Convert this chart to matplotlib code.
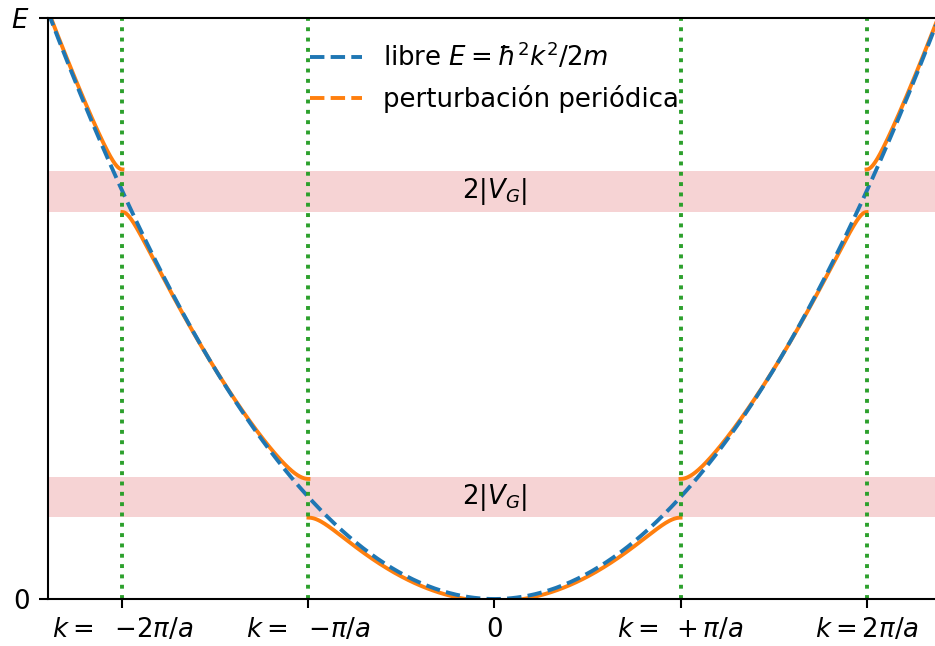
import numpy as np
import matplotlib
matplotlib.use("Agg")
import matplotlib.pyplot as plt
from matplotlib.lines import Line2D

# k en unidades de pi/a, E en unidades de (hbar pi/a)^2 / 2m
k_lim = (-2.4, 2.4)
E_lim = (0, 5.7)
bordes_zona = [-2, -1, 1, 2]
centros_gap = [1, 4]
V_G = 0.2                       # |V_G| para G = 2pi/a y G = 4pi/a
pos_x = [-2, -1, 0, 1, 2]
etiquetas_x = [r'$k=\ \;{-}2\pi/a$', r'$k=\ \;{-}\pi/a$', r'$0$',
               r'$k=\ \,{+}\,\pi/a$', r'$k=2\pi/a$']
# tramos de la zona extendida: (k inicial, k final, indice de banda)
tramos = [(-2.4, -2, 2), (-2, -1, 1), (-1, 1, 0), (1, 2, 1), (2, 2.4, 2)]


def bandas(k, n_max=3):
    # ecuacion central con ondas planas k + nG, G = 2pi/a
    n = np.arange(-n_max, n_max + 1)
    H = np.diag((k + 2.0 * n) ** 2)
    d = np.abs(n[:, None] - n[None, :])
    H[(d == 1) | (d == 2)] = V_G
    return np.linalg.eigvalsh(H)


fig = plt.figure(figsize=(5, 646 / 187), dpi=187)
ax = fig.add_axes([48 / 935, 47 / 646, 893 / 935, 581 / 646])

for c in centros_gap:
    ax.axhspan(c - V_G, c + V_G, color='tab:red', alpha=0.2, lw=0)
    ax.text(0, c, r'$2|V_G|$', ha='center', va='center')

for k0, k1, b in tramos:
    kk = np.linspace(k0, k1, 300)
    ax.plot(kk, [bandas(k)[b] for k in kk], color='tab:orange')

kk = np.linspace(*k_lim, 500)
ax.plot(kk, kk ** 2, '--', color='tab:blue')

for kb in bordes_zona:
    ax.axvline(kb, color='tab:green', ls=':')

ax.set_xlim(*k_lim)
ax.set_ylim(*E_lim)
ax.set_xticks(pos_x)
ax.set_xticklabels(etiquetas_x)
ax.set_yticks(list(E_lim))
ax.set_yticklabels(['0', '$E$'])

handles = [Line2D([], [], color='tab:blue', ls='--'),
           Line2D([], [], color='tab:orange', ls='--')]
ax.legend(handles, [r'libre $E=\hbar^2k^2/2m$', 'perturbación periódica'],
          loc='upper center', frameon=False)

fig.savefig('out.png', dpi=187)
